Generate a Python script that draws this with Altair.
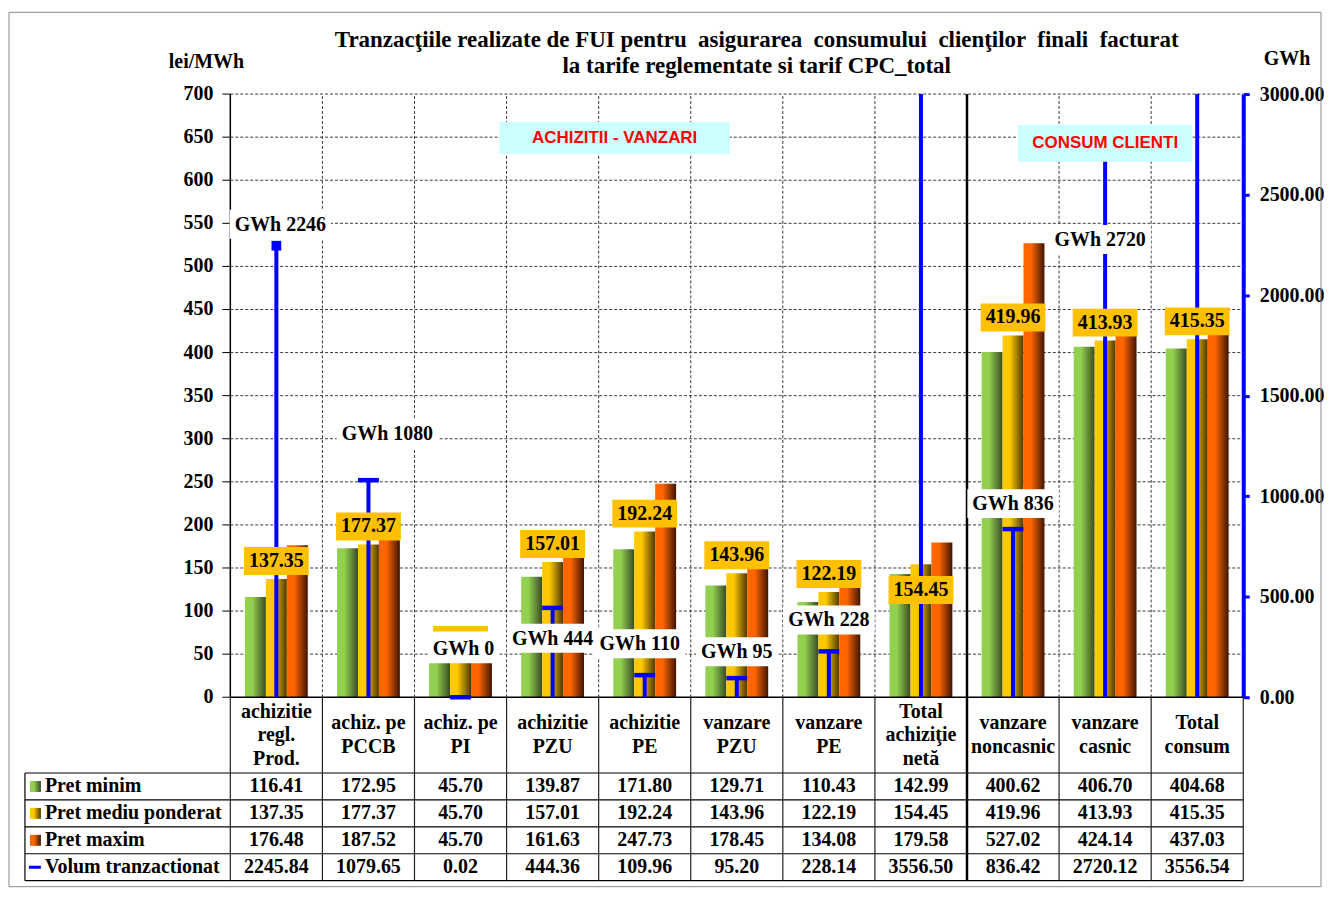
import altair as alt
import pandas as pd

# ---------------- data ----------------
categories = ["achizitie\nregl.\nProd.", "achiz. pe\nPCCB", "achiz. pe\nPI", "achizitie\nPZU",
              "achizitie\nPE", "vanzare\nPZU", "vanzare\nPE", "Total\nachiziţie\nnetă",
              "vanzare\nnoncasnic", "vanzare\ncasnic", "Total\nconsum"]
sections = ["ACHIZITII - VANZARI"] * 8 + ["CONSUM CLIENTI"] * 3
pret_minim = [116.41, 172.95, 45.70, 139.87, 171.80, 129.71, 110.43, 142.99, 400.62, 406.70, 404.68]
pret_mediu = [137.35, 177.37, 45.70, 157.01, 192.24, 143.96, 122.19, 154.45, 419.96, 413.93, 415.35]
pret_maxim = [176.48, 187.52, 45.70, 161.63, 247.73, 178.45, 134.08, 179.58, 527.02, 424.14, 437.03]
volum = [2245.84, 1079.65, 0.02, 444.36, 109.96, 95.20, 228.14, 3556.50, 836.42, 2720.12, 3556.54]
series_names = ["Pret minim", "Pret mediu ponderat", "Pret maxim", "Volum tranzactionat"]
price_ticks = [0, 50, 100, 150, 200, 250, 300, 350, 400, 450, 500, 550, 600, 650, 700]
gwh_ticks = [0, 500, 1000, 1500, 2000, 2500, 3000]
title_text = ("Tranzacţiile realizate de FUI pentru \u00a0asigurarea \u00a0consumului \u00a0clienţilor "
              "\u00a0finali \u00a0facturat\nla tarife reglementate si tarif CPC_total")
left_unit = "lei/MWh"
right_unit = "GWh"

# ---------------- layout / style ----------------
N = len(categories)
PLOT_W = 1016
STEP = PLOT_W / N
XMIN = -206 / STEP
W = 1222
H = 605
TH = 184
HEADER_H = 76
ROW_H = 27
PMAX = 700
GMAX = 3000
PX = H / PMAX
FONT = "Liberation Serif"
FS = 20
TITLE_FS = 23
HEAD_LH = 23.5
BLUE = "#0000FF"
GRADS = [("#92D050", "#3A4A22"), ("#FFC800", "#4A3800"), ("#FF6600", "#401400")]


def grad(c):
    return {"gradient": "linear", "x1": 0, "x2": 1, "y1": 0, "y2": 0,
            "stops": [{"offset": 0, "color": c[0]}, {"offset": 0.35, "color": c[0]},
                      {"offset": 1, "color": c[1]}]}


CW = {"G": 0.778, "W": 1.0, "h": 0.556, " ": 0.25, ".": 0.25}


def text_w(s):
    return sum(CW.get(ch, 0.5) for ch in s) * FS


XS = alt.Scale(domain=[XMIN, N], nice=False, zero=False)
PS = alt.Scale(domain=[0, PMAX], nice=False, zero=False)
GS = alt.Scale(domain=[0, GMAX], nice=False, zero=False)
TS = alt.Scale(domain=[0, TH], nice=False, zero=False, reverse=True)


def X(f):
    return alt.X(f, type="quantitative", scale=XS, axis=None)


def YP(f):
    return alt.Y(f, type="quantitative", scale=PS, axis=None)


GAXIS = alt.Axis(orient="right", values=gwh_ticks, format=".2f", domainColor=BLUE, domainWidth=4,
                 tickColor=BLUE, tickWidth=3, tickSize=6, labelPadding=10, labelFont=FONT,
                 labelFontWeight="bold", labelFontSize=FS, labelColor="black", grid=False, title="",
                 labelOverlap=False)


def YB(f):
    return alt.Y(f, type="quantitative", scale=GS, axis=GAXIS)


def YG(f):
    return alt.Y(f, type="quantitative", scale=GS, axis=None)


def YT(f):
    return alt.Y(f, type="quantitative", scale=TS, axis=None)


cat_df = pd.DataFrame({"idx": list(range(N)), "cat": categories, "sec": sections,
                       "minim": pret_minim, "mediu": pret_mediu, "maxim": pret_maxim, "vol": volum})
price_long = pd.DataFrame([{"idx": i, "s": k, "value": v}
                           for k, arr in enumerate([pret_minim, pret_mediu, pret_maxim])
                           for i, v in enumerate(arr)])
ticks_df = pd.DataFrame({"v": price_ticks})
one = pd.DataFrame({"a": [0]})
sep_idx = next(i for i in range(1, N) if sections[i] != sections[i - 1])

# ---------------- layer A: price scale background ----------------
frame = alt.Chart(one).mark_rect(fill="transparent", stroke="#8a8a8a", strokeWidth=1).encode(
    x=alt.value(-16), x2=alt.value(W + 78), y=alt.value(-82), y2=alt.value(H + TH + 6))

title = alt.Chart(one).mark_text(text=title_text, lineBreak="\n", lineHeight=26, font=FONT, fontWeight="bold",
                                 fontSize=TITLE_FS, align="center", baseline="middle").encode(
    x=alt.value(734), y=alt.value(-54))
lunit = alt.Chart(one).mark_text(text=left_unit, font=FONT, fontWeight="bold", fontSize=FS,
                                 align="center", baseline="middle").encode(x=alt.value(182), y=alt.value(-32))
runit = alt.Chart(one).mark_text(text=right_unit, font=FONT, fontWeight="bold", fontSize=FS,
                                 align="center", baseline="middle").encode(x=alt.value(W + 44), y=alt.value(-35))

grid_h = alt.Chart(ticks_df).transform_filter("datum.v > 0").transform_calculate(
    xa="0", xb=str(N)).mark_rule(color="#3a3a3a", strokeDash=[3, 2], strokeWidth=1).encode(
    x=X("xa"), x2="xb", y=YP("v"))
grid_v = alt.Chart(cat_df).transform_filter(f"datum.idx > 0 && datum.idx != {sep_idx}").transform_calculate(
    y0="0", y1=str(PMAX)).mark_rule(color="#3a3a3a", strokeDash=[3, 2], strokeWidth=1).encode(
    x=X("idx"), y=YP("y0"), y2="y1")
sep_v = alt.Chart(cat_df).transform_filter(f"datum.idx == {sep_idx}").transform_calculate(
    y0="0", y1=str(PMAX)).mark_rule(color="black", strokeWidth=2.5).encode(x=X("idx"), y=YP("y0"), y2="y1")
left_axis = alt.Chart(one).transform_calculate(xa="0", y0="0", y1=str(PMAX)).mark_rule(
    color="black", strokeWidth=1.5).encode(x=X("xa"), y=YP("y0"), y2="y1")
bottom_axis = alt.Chart(one).transform_calculate(xa="0", xb=str(N), y0="0").mark_rule(
    color="black", strokeWidth=1.5).encode(x=X("xa"), x2="xb", y=YP("y0"))
ytick = alt.Chart(ticks_df).transform_calculate(xa=str(-8 / STEP), xb="0").mark_rule(
    color="black", strokeWidth=1).encode(x=X("xa"), x2="xb", y=YP("v"))
ylab = alt.Chart(ticks_df).transform_calculate(xa="0").mark_text(
    align="right", baseline="middle", dx=-17, font=FONT, fontWeight="bold", fontSize=FS).encode(
    x=X("xa"), y=YP("v"), text=alt.Text("v:Q", format="d"))

BW = 21 / STEP
bars = []
for k in range(3):
    bars.append(alt.Chart(price_long).transform_filter(f"datum.s == {k}").transform_calculate(
        xa=f"datum.idx + 0.5 + ({k} - 1.5) * {BW}", xb=f"datum.idx + 0.5 + ({k} - 0.5) * {BW}", y0="0"
    ).mark_rect(fill=grad(GRADS[k])).encode(x=X("xa"), x2="xb", y=YP("value"), y2="y0"))

layer_a = alt.layer(frame, grid_h, grid_v, sep_v, ytick, ylab, *bars, left_axis, bottom_axis,
                    title, lunit, runit)

# ---------------- layer B: volume (GWh scale) ----------------
CAPW = 10.5 / STEP
vol_rule = alt.Chart(cat_df).transform_calculate(cx="datum.idx + 0.5", y0="0").mark_rule(
    color=BLUE, strokeWidth=4, clip=True).encode(x=X("cx"), y=YB("vol"), y2="y0")
caps = alt.Chart(cat_df).transform_filter(f"datum.idx > 0 && datum.vol <= {GMAX}").transform_calculate(
    xa=f"datum.idx + 0.5 - {CAPW}", xb=f"datum.idx + 0.5 + {CAPW}").mark_rule(
    color=BLUE, strokeWidth=4.5).encode(x=X("xa"), x2="xb", y=YB("vol"))
marker = alt.Chart(cat_df).transform_filter("datum.idx == 0").transform_calculate(
    cx="datum.idx + 0.5").mark_square(size=95, color=BLUE, opacity=1).encode(x=X("cx"), y=YB("vol"))
layer_b = alt.layer(vol_rule, caps, marker)

# ---------------- layer C: mean price labels + section annotations ----------------
below = [7]
ylab_base = alt.Chart(cat_df).transform_calculate(
    lbl="format(datum.mediu, '.2f')", cx="datum.idx + 0.5").transform_calculate(
    hw=f"(((length(datum.lbl) - 1) * 0.5 + 0.25) * {FS} / 2 + 5) / {STEP}").transform_calculate(
    xa="datum.cx - datum.hw", xb="datum.cx + datum.hw")
cond_above = " && ".join(f"datum.idx != {i}" for i in below)
cond_below = " || ".join(f"datum.idx == {i}" for i in below)
mean_box_a = ylab_base.transform_filter(cond_above).mark_rect(
    fill="#FFC000", yOffset=-32, y2Offset=-4).encode(x=X("xa"), x2="xb", y=YP("mediu"), y2="mediu")
mean_txt_a = ylab_base.transform_filter(cond_above).mark_text(
    dy=-18, font=FONT, fontWeight="bold", fontSize=FS, baseline="middle").encode(
    x=X("cx"), y=YP("mediu"), text="lbl:N")
mean_box_b = ylab_base.transform_filter(cond_below).mark_rect(
    fill="#FFC000", yOffset=12, y2Offset=40).encode(x=X("xa"), x2="xb", y=YP("mediu"), y2="mediu")
mean_txt_b = ylab_base.transform_filter(cond_below).mark_text(
    dy=26, font=FONT, fontWeight="bold", fontSize=FS, baseline="middle").encode(
    x=X("cx"), y=YP("mediu"), text="lbl:N")


def px_x(p):
    return (p - 230) / STEP


def px_y(p):
    return (697 - p) / PX


anno_df = pd.DataFrame({
    "text": ["ACHIZITII - VANZARI", "CONSUM CLIENTI"],
    "xa": [px_x(500), px_x(1020)], "xb": [px_x(731), px_x(1195)],
    "ya": [px_y(120), px_y(123)], "yb": [px_y(152), px_y(160)],
    "tx": [px_x(615.5), px_x(1107.5)], "ty": [px_y(136), px_y(141.5)],
})
anno_box = alt.Chart(anno_df).mark_rect(fill="#CCFFFF").encode(x=X("xa"), x2="xb", y=YP("ya"), y2="yb")
anno_txt = alt.Chart(anno_df).mark_text(font="Liberation Sans", fontWeight="bold", fontSize=17,
                                        color="#FF0000", baseline="middle").encode(
    x=X("tx"), y=YP("ty"), text="text:N")
layer_c = alt.layer(mean_box_a, mean_box_b, mean_txt_a, mean_txt_b, anno_box, anno_txt)

# ---------------- layer D: GWh labels ----------------
# (dx, dy, extra top padding of the white box)
gwh_label_offsets = {0: (4, -21, 0), 1: (19, -46, 0), 2: (3, -48, 3), 3: (0, 31, 0), 4: (-5, -31, 0),
                     5: (0, -26, 0), 6: (0, -31, 0), 8: (0, -25, 0), 9: (-5, 90, 0)}
d_layers = []
for i, (dx, dy, pad) in gwh_label_offsets.items():
    w = text_w(f"GWh {volum[i]:.0f}") + 10
    base = alt.Chart(cat_df).transform_filter(f"datum.idx == {i}").transform_calculate(
        cx="datum.idx + 0.5", lbl="'GWh ' + format(datum.vol, '.0f')")
    d_layers.append(base.mark_rect(fill="white", xOffset=dx - w / 2, x2Offset=dx + w / 2,
                                   yOffset=dy - 15 - pad, y2Offset=dy + 14).encode(
        x=X("cx"), x2="cx", y=YG("vol"), y2="vol"))
    d_layers.append(base.mark_text(dx=dx, dy=dy, font=FONT, fontWeight="bold", fontSize=FS,
                                   baseline="middle").encode(x=X("cx"), y=YG("vol"), text="lbl:N"))
layer_d = alt.layer(*d_layers)

top = alt.layer(layer_a, layer_b, layer_c, layer_d).resolve_scale(y="independent").properties(
    width=W, height=H)

# ---------------- data table ----------------
rows_long = pd.DataFrame([{"idx": i, "r": r, "value": v}
                          for r, arr in enumerate([pret_minim, pret_mediu, pret_maxim, volum])
                          for i, v in enumerate(arr)])
series_df = pd.DataFrame({"r": list(range(len(series_names))), "name": series_names})
hlines = pd.DataFrame({"y": [HEADER_H + r * ROW_H for r in range(len(series_names) + 1)]})

t_h = alt.Chart(hlines).transform_calculate(xa=str(XMIN), xb=str(N)).mark_rule(
    color="black", strokeWidth=1.2).encode(x=X("xa"), x2="xb", y=YT("y"))
t_left = alt.Chart(one).transform_calculate(xa=str(XMIN), y0=str(HEADER_H), y1=str(TH)).mark_rule(
    color="black", strokeWidth=1.2).encode(x=X("xa"), y=YT("y0"), y2="y1")
bnd = pd.DataFrame({"b": list(range(N + 1))})
t_v = alt.Chart(bnd).transform_filter(f"datum.b != {sep_idx}").transform_calculate(
    y0="0", y1=str(TH)).mark_rule(color="#222222", strokeWidth=1.2).encode(x=X("b"), y=YT("y0"), y2="y1")
t_sep = alt.Chart(bnd).transform_filter(f"datum.b == {sep_idx}").transform_calculate(
    y0="0", y1=str(TH)).mark_rule(color="black", strokeWidth=2.5).encode(x=X("b"), y=YT("y0"), y2="y1")
t_vals = alt.Chart(rows_long).transform_calculate(
    cx="datum.idx + 0.5", yc=f"{HEADER_H} + (datum.r + 0.5) * {ROW_H}",
    lbl="format(datum.value, '.2f')").mark_text(
    font=FONT, fontWeight="bold", fontSize=FS, baseline="middle").encode(x=X("cx"), y=YT("yc"), text="lbl:N")
t_head = alt.Chart(cat_df).transform_calculate(
    cx="datum.idx + 0.5",
    yc=f"{HEADER_H / 2} - (length(split(datum.cat, '\\n')) - 1) * {HEAD_LH} / 2").mark_text(
    font=FONT, fontWeight="bold", fontSize=FS, baseline="middle", lineBreak="\n", lineHeight=HEAD_LH).encode(
    x=X("cx"), y=YT("yc"), text="cat:N")
t_names = alt.Chart(series_df).transform_calculate(
    xa=str(XMIN + 20 / STEP), yc=f"{HEADER_H} + (datum.r + 0.5) * {ROW_H}").mark_text(
    font=FONT, fontWeight="bold", fontSize=FS, baseline="middle", align="left").encode(
    x=X("xa"), y=YT("yc"), text="name:N")
keys = []
for k in range(3):
    keys.append(alt.Chart(series_df).transform_filter(f"datum.r == {k}").transform_calculate(
        xa=str(XMIN + 5 / STEP), xb=str(XMIN + 16 / STEP),
        ya=f"{HEADER_H} + (datum.r + 0.5) * {ROW_H} - 5.5", yb=f"{HEADER_H} + (datum.r + 0.5) * {ROW_H} + 5.5"
    ).mark_rect(fill=grad(GRADS[k])).encode(x=X("xa"), x2="xb", y=YT("ya"), y2="yb"))
keys.append(alt.Chart(series_df).transform_filter("datum.r == 3").transform_calculate(
    xa=str(XMIN + 4 / STEP), xb=str(XMIN + 16 / STEP), yc=f"{HEADER_H} + (datum.r + 0.5) * {ROW_H}"
).mark_rule(color=BLUE, strokeWidth=3).encode(x=X("xa"), x2="xb", y=YT("yc")))

table = alt.layer(t_h, t_left, t_v, t_sep, t_vals, t_head, t_names, *keys).properties(width=W, height=TH)

chart = alt.vconcat(top, table, spacing=0, bounds="flush").properties(
    padding={"left": 0, "top": 2, "right": 0, "bottom": 0}).configure_view(strokeWidth=0)

chart.save("out.html", embed_options={"renderer": "svg", "actions": False})
